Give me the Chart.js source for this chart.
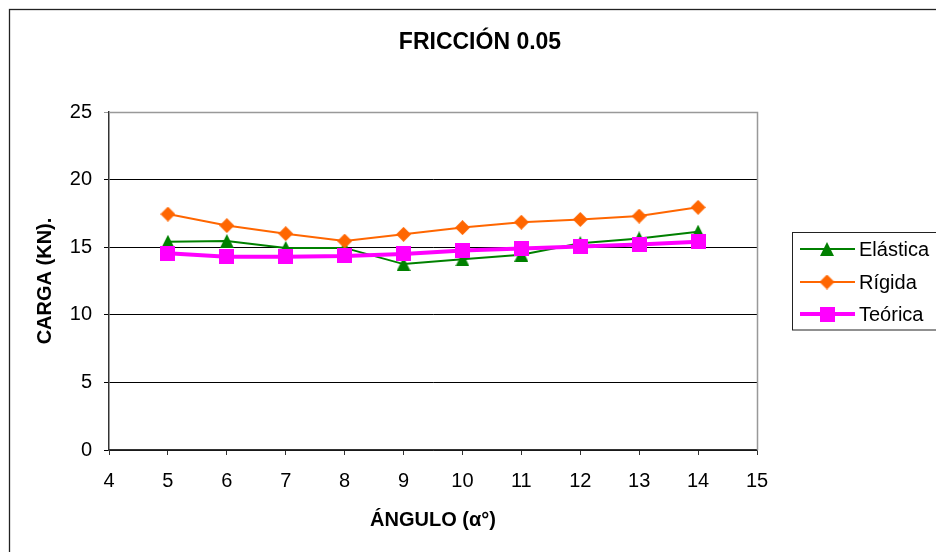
<!DOCTYPE html>
<html>
<head>
<meta charset="utf-8">
<script src="https://cdn.jsdelivr.net/npm/chart.js@4"></script>
<style>
  body { margin: 0; background: #fff; }
  #canvasContainer { width: 936px; height: 552px; }
</style>
</head>
<body>
<div id="canvasContainer"><canvas id="mycanvas" width="936" height="552"></canvas></div>
<script>
// datos
var angulos = [5, 6, 7, 8, 9, 10, 11, 12, 13, 14];
var elastica = [15.4, 15.45, 14.95, 14.95, 13.75, 14.1, 14.45, 15.3, 15.65, 16.15];
var rigida = [17.45, 16.6, 16.0, 15.45, 15.95, 16.45, 16.85, 17.05, 17.3, 17.95];
var teorica = [14.55, 14.3, 14.3, 14.35, 14.5, 14.75, 14.9, 15.05, 15.2, 15.4];

var seriesNames = ['Elástica', 'Rígida', 'Teórica'];
var seriesColors = ['#008000', '#FF6600', '#FF00FF'];
var chartTitle = 'FRICCIÓN 0.05';
var xTitle = 'ÁNGULO (α°)';
var yTitle = 'CARGA (KN).';

var fontFamily = '"Liberation Sans", Arial, sans-serif';
Chart.defaults.font.family = fontFamily;
Chart.defaults.color = '#000';

function toPoints(values){
    return values.map(function(v, i){ return {x: angulos[i], y: v}; });
}

// marker images, centred in their box like the spreadsheet markers
function markerImage(kind, color){
    var c = document.createElement('canvas');
    var g = c.getContext('2d');
    if (kind === 'tri') {
        c.width = 14; c.height = 14;
        g.fillStyle = color;
        g.beginPath();
        g.moveTo(7, 0); g.lineTo(14, 14); g.lineTo(0, 14);
        g.closePath(); g.fill();
    } else if (kind === 'diamond') {
        c.width = 15; c.height = 15;
        g.fillStyle = color;
        g.beginPath();
        g.moveTo(7.5, 0); g.lineTo(15, 7.5); g.lineTo(7.5, 15); g.lineTo(0, 7.5);
        g.closePath(); g.fill();
    } else {
        c.width = 15; c.height = 15;
        g.fillStyle = color;
        g.fillRect(0, 0, 15, 15);
    }
    return c;
}
var markers = [
    markerImage('tri', seriesColors[0]),
    markerImage('diamond', seriesColors[1]),
    markerImage('square', seriesColors[2])
];

var framePlugin = {
    id: 'frame',
    beforeDraw: function(chart){
        var ctx = chart.ctx;
        ctx.save();
        ctx.fillStyle = '#fff';
        ctx.fillRect(0, 0, chart.width, chart.height);
        ctx.strokeStyle = '#222';
        ctx.lineWidth = 1.3;
        ctx.strokeRect(9.5, 9.5, chart.width + 20, chart.height + 20);
        ctx.restore();
    },
    beforeDatasetsDraw: function(chart){
        var a = chart.chartArea, ctx = chart.ctx;
        ctx.save();
        ctx.strokeStyle = '#999';
        ctx.lineWidth = 1.5;
        ctx.beginPath();
        ctx.moveTo(a.left, a.top + 0.5);
        ctx.lineTo(a.right + 0.5, a.top + 0.5);
        ctx.lineTo(a.right + 0.5, a.bottom);
        ctx.stroke();
        ctx.restore();
    },
    afterDraw: function(chart){
        var ctx = chart.ctx;
        ctx.save();
        // title
        ctx.fillStyle = '#000';
        ctx.font = 'bold 23px ' + fontFamily;
        ctx.textAlign = 'center';
        ctx.textBaseline = 'middle';
        ctx.fillText(chartTitle, 480, 43);
        // legend box
        ctx.strokeStyle = '#222';
        ctx.lineWidth = 1;
        ctx.strokeRect(792.5, 232.5, 160, 97.5);
        var rows = [249, 282, 314];
        var widths = [2, 2, 4];
        ctx.font = '20px ' + fontFamily;
        ctx.textAlign = 'left';
        for (var i = 0; i < 3; i++) {
            ctx.strokeStyle = seriesColors[i];
            ctx.lineWidth = widths[i];
            ctx.beginPath();
            ctx.moveTo(800, rows[i]);
            ctx.lineTo(855, rows[i]);
            ctx.stroke();
            var m = markers[i];
            ctx.drawImage(m, 827 - m.width / 2, rows[i] - m.height / 2);
            ctx.fillStyle = '#000';
            ctx.fillText(seriesNames[i], 859, rows[i] + 1);
        }
        ctx.restore();
    }
};

var chartData = {
    datasets: [
        {
            label: seriesNames[0],
            data: toPoints(elastica),
            borderColor: seriesColors[0],
            backgroundColor: seriesColors[0],
            borderWidth: 2,
            pointStyle: markers[0],
            order: 3
        },
        {
            label: seriesNames[1],
            data: toPoints(rigida),
            borderColor: seriesColors[1],
            backgroundColor: seriesColors[1],
            borderWidth: 2,
            pointStyle: markers[1],
            order: 2
        },
        {
            label: seriesNames[2],
            data: toPoints(teorica),
            borderColor: seriesColors[2],
            backgroundColor: seriesColors[2],
            borderWidth: 4,
            pointStyle: markers[2],
            order: 1
        }
    ]
};

var canvas = document.getElementById('mycanvas');
var myChart = new Chart(canvas, {
    type: 'line',
    data: chartData,
    plugins: [framePlugin],
    options: {
        responsive: false,
        animation: false,
        events: [],
        layout: { padding: { left: 10, top: 112, right: 179, bottom: 0 } },
        elements: { line: { tension: 0 } },
        plugins: {
            legend: { display: false },
            title: { display: false },
            tooltip: { enabled: false }
        },
        scales: {
            x: {
                type: 'linear',
                min: 4,
                max: 15,
                afterFit: function(scale){ scale.height = 102; },
                ticks: { stepSize: 1, padding: 14, font: { size: 20 }, color: '#000' },
                grid: { drawOnChartArea: false, drawTicks: true, tickLength: 5, color: '#333' },
                border: { display: true, color: '#333', width: 1.5 },
                title: {
                    display: true,
                    text: xTitle,
                    font: { size: 20, weight: 'bold' },
                    padding: { top: 0, bottom: 20 }
                }
            },
            y: {
                min: 0,
                max: 25,
                afterFit: function(scale){ scale.width = 99; },
                ticks: { stepSize: 5, padding: 12, font: { size: 20 }, color: '#000' },
                grid: {
                    tickLength: 5,
                    color: function(c){ return c.tick && c.tick.value === 25 ? '#999' : '#000'; },
                    lineWidth: 1
                },
                border: { display: true, color: '#333', width: 1.5 },
                title: {
                    display: true,
                    text: yTitle,
                    font: { size: 20, weight: 'bold' },
                    padding: { top: 23, bottom: 0 }
                }
            }
        }
    }
});
</script>
</body>
</html>
